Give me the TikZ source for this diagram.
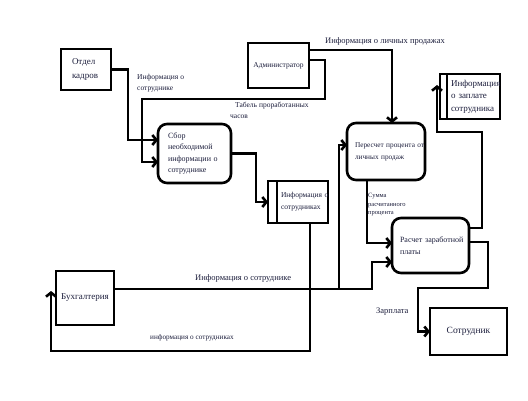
\documentclass[tikz,border=0pt]{standalone}
\usepackage{fontspec}
\setmainfont{Liberation Serif}
\usetikzlibrary{arrows.meta}
\definecolor{txtcol}{RGB}{28,30,60}
\begin{document}
\begin{tikzpicture}[x=1pt,y=-1pt,every node/.style={text=txtcol},
    box/.style={draw,line width=2.6pt,inner sep=0pt,outer sep=0pt,align=left},
    proc/.style={box,rounded corners=9pt},
    store/.style={box},
    flow/.style={line width=2.6pt,-{Straight Barb[length=4pt,width=10pt]}},
    lbl/.style={inner sep=0pt,anchor=north west,align=left}]
    \useasboundingbox (0,0) rectangle (528,401);
    \node[box,minimum width=50pt,minimum height=41pt,text width=28pt,font=\fontsize{9}{14}\selectfont] (otdel) at (86,69.5) {Отдел\\кадров};
    \node[box,minimum width=61pt,minimum height=45pt,align=center,font=\fontsize{7.5}{9}\selectfont] (admin) at (278.5,65.5) {Администратор};
    \node[proc,minimum width=73pt,minimum height=59pt,text width=53pt,font=\fontsize{8}{11.5}\selectfont] (sbor) at (194.5,153.5) {Сбор\\необходимой\\\mbox{информации о}\\сотруднике};
    \node[store,minimum width=60pt,minimum height=42pt,text width=34pt,font=\fontsize{7.5}{12}\selectfont] (infsotr) at (298,202) {\mbox{Информация о}\\сотрудниках};
    \draw[line width=2pt] ([xshift=9pt]infsotr.north west) -- ([xshift=9pt]infsotr.south west);
    \node[proc,minimum width=78pt,minimum height=57pt,text width=62pt,font=\fontsize{7.3}{12}\selectfont] (pereschet) at (386,151.5) {\mbox{Пересчет процента от}\\\mbox{личных продаж}};
    \node[store,minimum width=60pt,minimum height=45pt,text width=38pt,font=\fontsize{9}{12.5}\selectfont] (infzp) at (470,96.5) {Информация\\\mbox{о заплате}\\сотрудника};
    \draw[line width=2pt] ([xshift=7pt]infzp.north west) -- ([xshift=7pt]infzp.south west);
    \node[proc,minimum width=77pt,minimum height=55pt,text width=61pt,font=\fontsize{8}{12}\selectfont] (raschet) at (430.5,245.5) {\mbox{Расчет заработной}\\платы};
    \node[box,minimum width=58pt,minimum height=54pt,align=center,font=\fontsize{9}{11}\selectfont] (buh) at (85,298) {Бухгалтерия};
    \node[box,minimum width=77pt,minimum height=47pt,align=center,font=\fontsize{9.5}{12}\selectfont] (sotr) at (468.5,331.5) {Сотрудник};
    \coordinate (buhin) at (51,291);
    \coordinate (split) at (339,289);
    \coordinate (zpin) at (437,85);
    \draw[flow] (otdel.east) -- (128,69.5) |- ([yshift=13.5pt]sbor.west);
    \draw[flow] ([yshift=5.5pt]admin.east) -| (325,99) -| (142,162) -- ([yshift=-8.5pt]sbor.west);
    \draw[flow] ([yshift=15.5pt]admin.east) -| ([xshift=6pt]pereschet.north);
    \draw[flow] (sbor.east) -- (256,153.5) |- (infsotr.west);
    \draw[flow] ([xshift=12pt]infsotr.south) |- (51,351) -- (buhin);
    \draw[flow] ([yshift=9pt]buh.east) -| (372,262) -- ([yshift=-16.5pt]raschet.west);
    \draw[flow] (split) |- ([yshift=6.5pt]pereschet.west);
    \draw[flow] ([xshift=-19pt]pereschet.south) |- ([yshift=2.5pt]raschet.west);
    \draw[flow] ([yshift=17.5pt]raschet.east) -| (482,132) -| (zpin);
    \draw[flow] ([yshift=3.5pt]raschet.east) -| (488,288) -| (418,310) |- (sotr.west);
    \node[lbl,font=\fontsize{7.5}{11}\selectfont] (l1) at (137,74) {Информация о\\сотруднике};
    \node[lbl,font=\fontsize{7.5}{11}\selectfont] (l2) at (230,102) {\hspace*{5pt}Табель проработанных\\часов};
    \node[lbl,font=\fontsize{8.5}{11}\selectfont] (l3) at (325,37) {Информация о личных продажах};
    \node[lbl,font=\fontsize{8.5}{11}\selectfont] (l4) at (195,274) {Информация о сотруднике};
    \node[lbl,font=\fontsize{7.2}{9}\selectfont] (l5) at (150,334) {информация о сотрудниках};
    \node[lbl,font=\fontsize{6.5}{8.5}\selectfont] (l6) at (368,193) {Сумма\\расчитанного\\процента};
    \node[lbl,font=\fontsize{8.5}{10}\selectfont] (l7) at (376,308) {Зарплата};
\end{tikzpicture}
\end{document}
